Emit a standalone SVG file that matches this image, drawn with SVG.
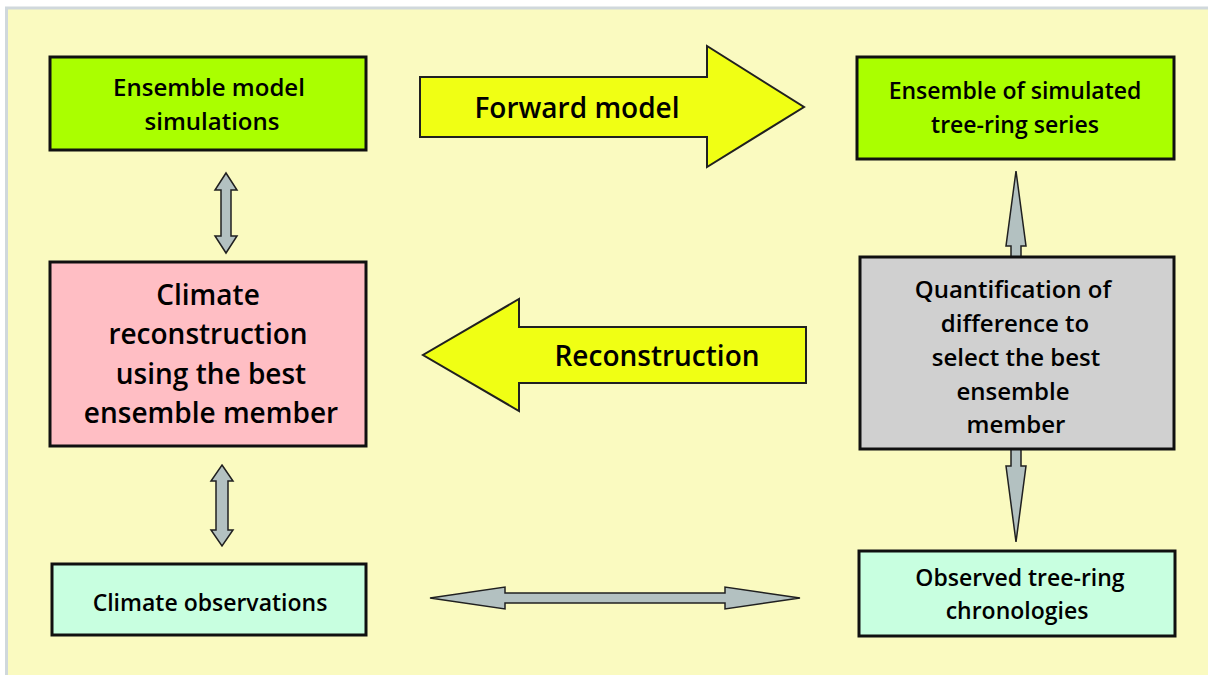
<svg xmlns="http://www.w3.org/2000/svg" width="1208" height="675" viewBox="0 0 1208 675">
<style>
.box{stroke:#101010;stroke-width:3}
.t{font-family:"Open Sans","Noto Sans","Liberation Sans",sans-serif;font-weight:600;fill:#000;text-anchor:middle}
.s{font-size:23px}
.m{font-size:24px}
.l{font-size:28px}
.ga{fill:#b3c1c1;stroke:#202020;stroke-width:1.5;stroke-linejoin:miter}
.ya{fill:#f0ff14;stroke:#202020;stroke-width:2}
</style>
<rect x="0" y="0" width="1208" height="675" fill="#ffffff"/>
<rect x="6.5" y="8" width="1210" height="680" fill="#fafac0" stroke="#d0d8dc" stroke-width="3"/>

<g id="connectors">
  <polygon class="ya" points="420,77 707,77 707,46 804,107 707,167 707,137 420,137"/>
  <polygon class="ya" points="806,327 519,327 519,299 423,355 519,411 519,383 806,383"/>
  <polygon class="ga" points="226,173 237,190 231,190 231,236 237,236 226,253 215,236 221,236 221,190 215,190"/>
  <polygon class="ga" points="222,465 233,481 228,481 228,530 233,530 222,546 211,530 216,530 216,481 211,481"/>
  <polygon class="ga" points="1016,171 1026,246 1021,246 1021,257 1011,257 1011,246 1006,246"/>
  <polygon class="ga" points="1011,449 1021,449 1021,466 1026,466 1016,542 1006,466 1011,466"/>
  <polygon class="ga" points="430,598 505,587 505,593 725,593 725,587 800,598 725,609 725,603 505,603 505,609"/>
  <text class="t l" x="577" y="118">Forward model</text>
  <text class="t l" x="657" y="366">Reconstruction</text>
</g>

<g id="ensemble-model-simulations">
  <rect class="box" x="50" y="57" width="316" height="93" fill="#aaff00"/>
  <text class="t m" x="209" y="96">Ensemble model</text>
  <text class="t m" x="212" y="130">simulations</text>
</g>

<g id="climate-reconstruction">
  <rect class="box" x="50" y="262" width="316" height="184" fill="#ffbec4"/>
  <text class="t l" x="208" y="305">Climate</text>
  <text class="t l" x="208" y="344">reconstruction</text>
  <text class="t l" x="211" y="384">using the best</text>
  <text class="t l" x="211" y="423">ensemble member</text>
</g>

<g id="climate-observations">
  <rect class="box" x="52" y="564" width="314" height="71" fill="#c8ffe0"/>
  <text class="t s" x="210" y="611">Climate observations</text>
</g>

<g id="ensemble-simulated-tree-ring">
  <rect class="box" x="857" y="57" width="317" height="102" fill="#aaff00"/>
  <text class="t s" x="1015" y="99">Ensemble of simulated</text>
  <text class="t s" x="1015" y="133">tree-ring series</text>
</g>

<g id="quantification">
  <rect class="box" x="860" y="257" width="314" height="192" fill="#d0d0d0"/>
  <text class="t m" x="1013" y="298">Quantification of</text>
  <text class="t m" x="1015" y="332">difference to</text>
  <text class="t m" x="1016" y="366">select the best</text>
  <text class="t m" x="1013" y="400">ensemble</text>
  <text class="t m" x="1016" y="433">member</text>
</g>

<g id="observed-tree-ring">
  <rect class="box" x="859" y="551" width="316" height="85" fill="#c8ffe0"/>
  <text class="t s" x="1020" y="586">Observed tree-ring</text>
  <text class="t s" x="1017" y="619">chronologies</text>
</g>
</svg>
